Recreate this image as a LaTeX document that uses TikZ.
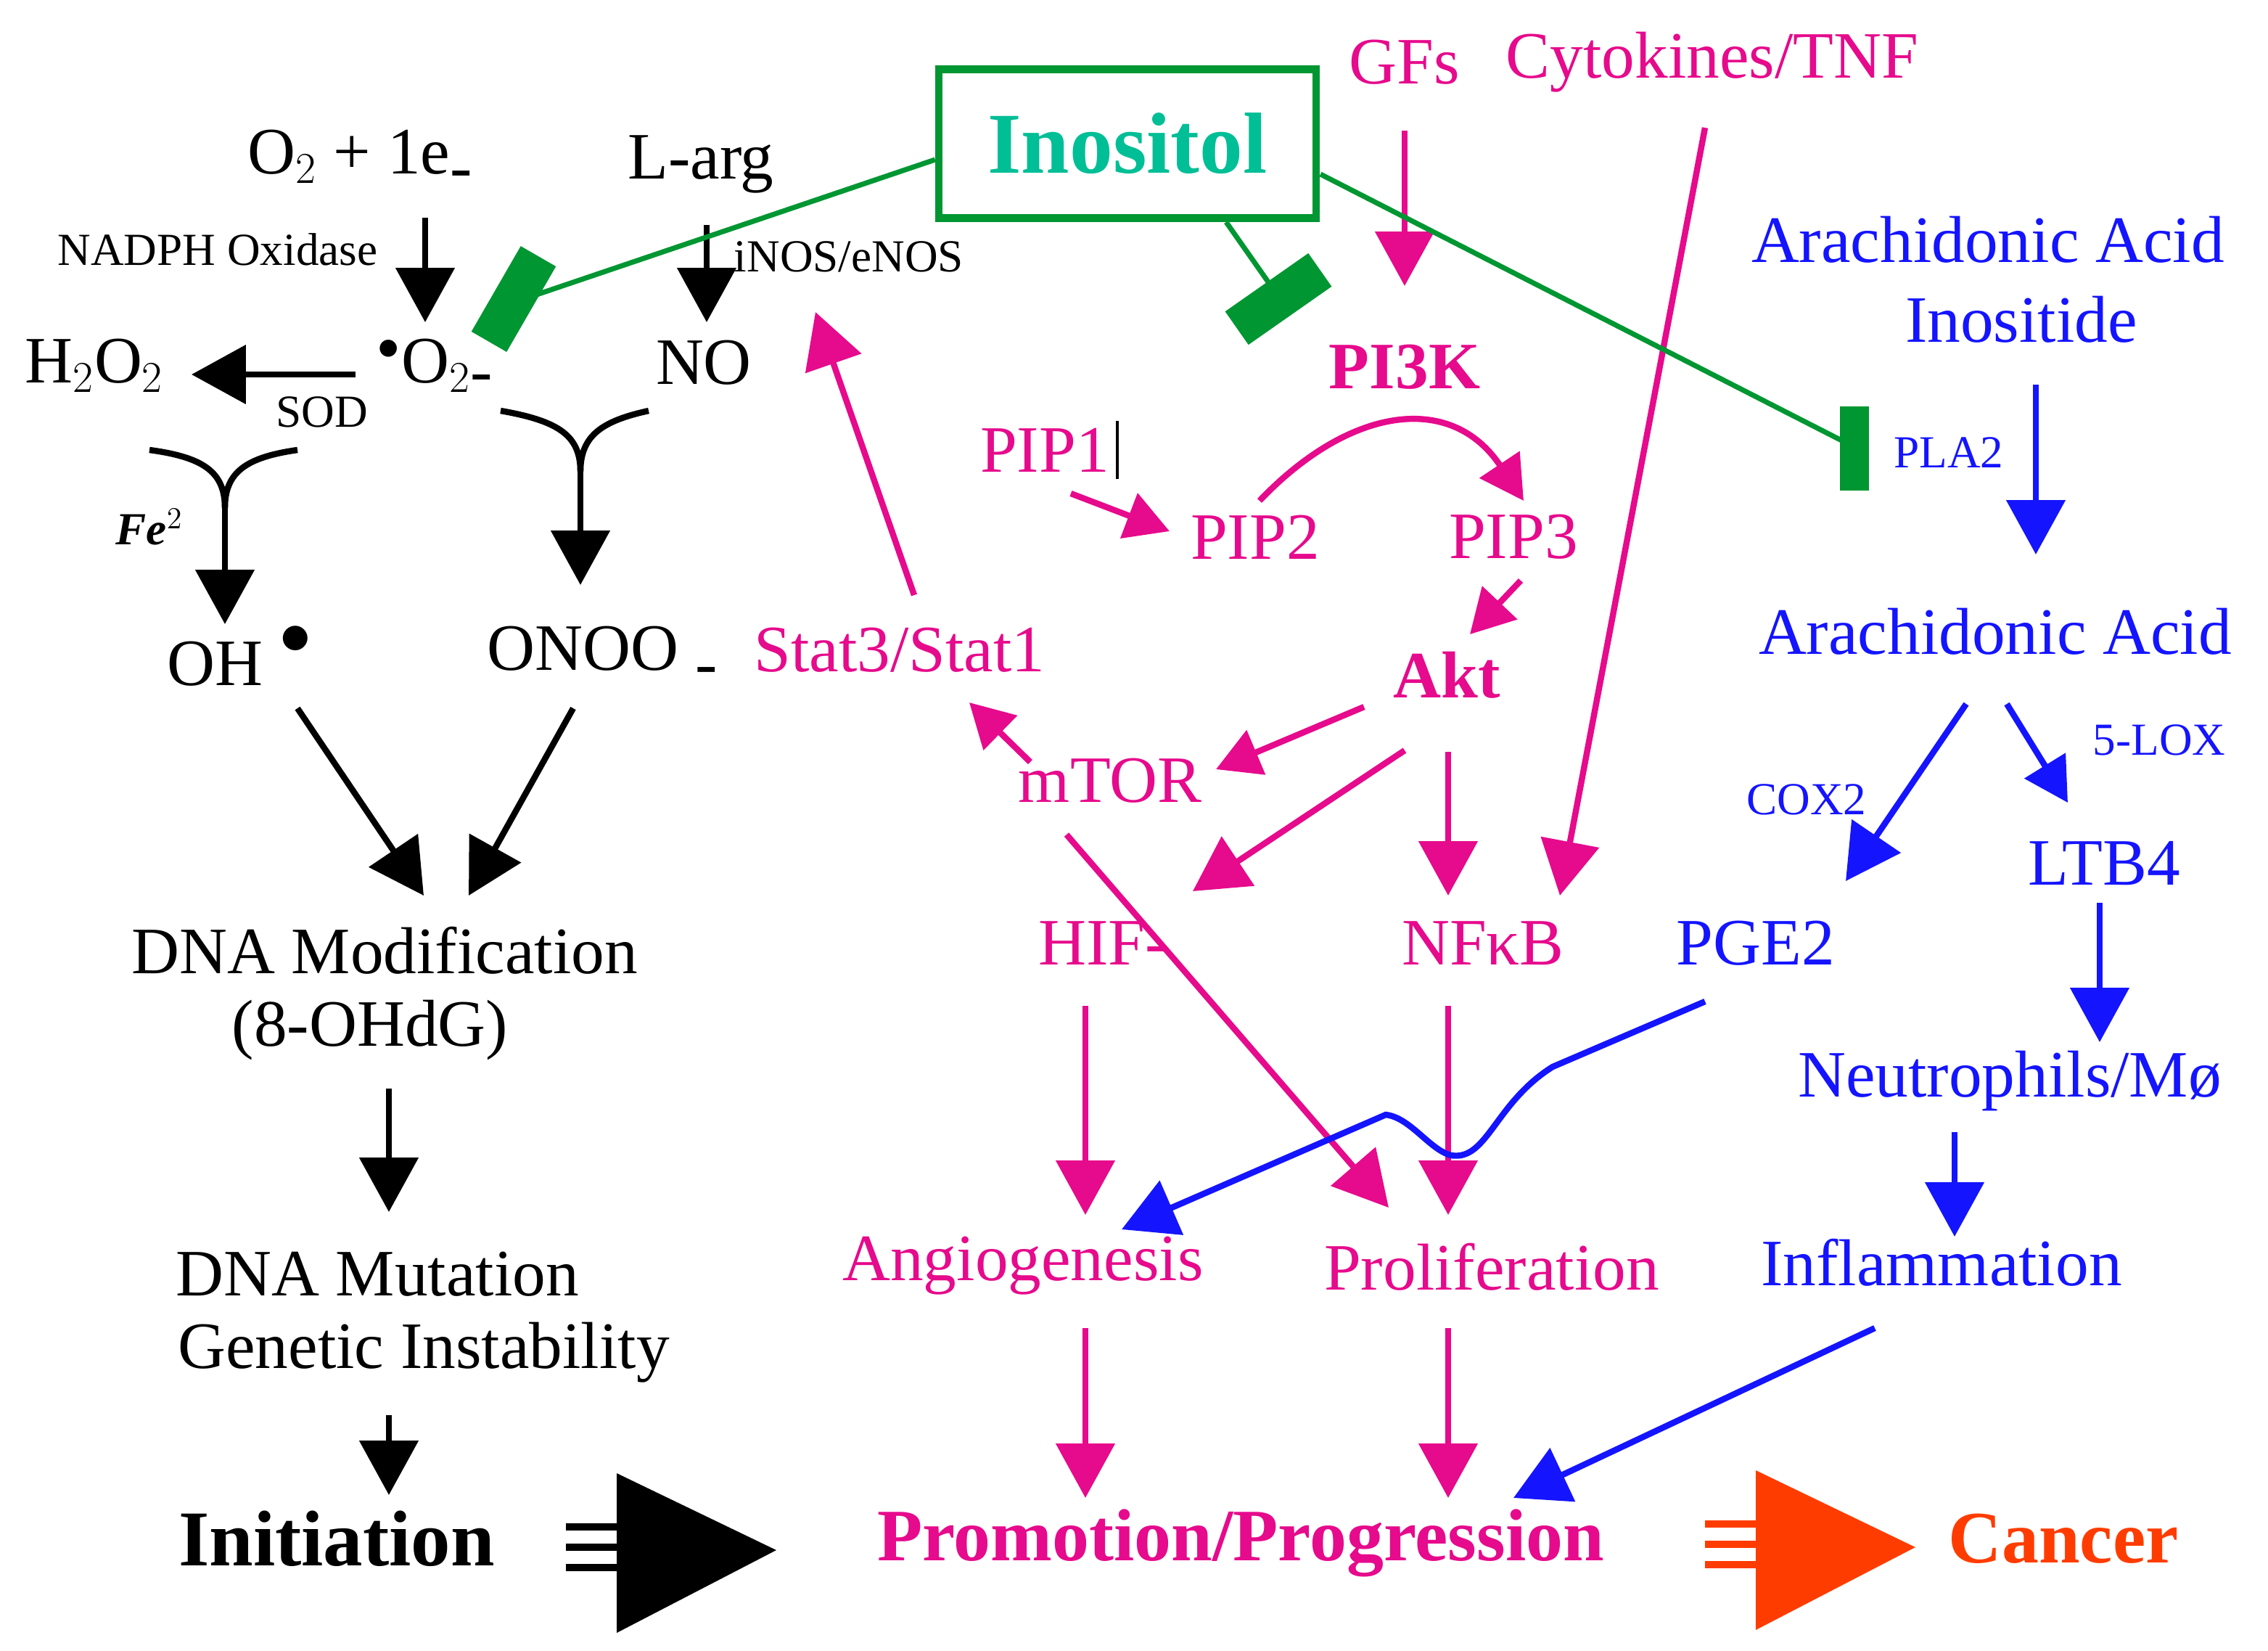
\documentclass[tikz,border=0pt]{standalone}
\usepackage{fontspec}
\setmainfont{Liberation Serif}
\usetikzlibrary{arrows.meta}
\definecolor{pk}{RGB}{230,10,140}
\definecolor{bl}{RGB}{20,20,255}
\definecolor{gr}{RGB}{0,150,50}
\definecolor{teal}{RGB}{0,190,150}
\definecolor{org}{RGB}{255,60,0}
\newcommand{\fs}[1]{\fontsize{#1}{#1}\selectfont}
\begin{document}
\begin{tikzpicture}[x=0.02cm,y=-0.02cm,
 t/.style={inner sep=1pt,font=\fs{26}},
 s/.style={inner sep=1pt,font=\fs{18}},
 ar/.style={line width=2.4pt,-{Triangle[length=0.75cm,width=0.8cm]}},
 sa/.style={line width=2.4pt,-{Triangle[length=0.6cm,width=0.65cm]}},
 inh/.style={line width=2pt,gr}]
\useasboundingbox (0,0) rectangle (1563,1137);
% black side
\node[t] (o2) at (248,110) {O$_2$ + 1e\raisebox{-6pt}{-}};
\node[t] (larg) at (483,113) {L-arg};
\node[s] (nadph) at (150,172) {NADPH Oxidase};
\node[s] (inos) at (585,177) {iNOS/eNOS};
\node[t] (o2m) at (300,252) {$^{\bullet}$O$_{2}$\raisebox{-4pt}{-}};
\node[t] (no) at (485,250) {NO};
\node[t] (h2o2) at (65,252) {H$_2$O$_2$};
\node[s] (sod) at (222,284) {SOD};
\node[s] (fe) at (103,363) {\textbf{\textit{Fe}}$^{2}$};
\node[t] (oh) at (165,452) {OH \raisebox{12pt}{$\bullet$}};
\node[t] (onoo) at (415,452) {ONOO \raisebox{-6pt}{-}};
\node[t] (dna) at (265,655) {DNA Modification};
\node[t] (ohdg) at (255,710) {(8-OHdG)};
\node[t] (mut) at (260,878) {DNA Mutation};
\node[t] (gen) at (292,932) {Genetic Instability};
\node[t,font=\fs{31}\bfseries] (init) at (232,1060) {Initiation};
\fill (425,1015) -- (425,1125) -- (535,1068) -- cycle;
\foreach \y in {1052,1066,1080} \draw[line width=3pt] (390,\y) -- (425,\y);
\node[t,font=\fs{29}\bfseries,text=pk] (prom) at (855,1063) {Promotion/Progression};
\fill[org] (1210,1013) -- (1210,1123) -- (1320,1066) -- cycle;
\foreach \y in {1050,1064,1078} \draw[org,line width=3pt] (1175,\y) -- (1210,\y);
\node[t,font=\fs{29}\bfseries,text=org] (can) at (1422,1060) {Cancer};
% inositol
\node[draw=gr,line width=3pt,minimum width=5.2cm,minimum height=2.05cm,font=\fs{34}\bfseries,text=teal] (ino) at (777,99) {Inositol};
% pink
\begin{scope}[every node/.append style={text=pk}]
\node[t] (gfs) at (968,43) {GFs};
\node[t] (cyt) at (1180,43) {Cytokines/TNF};
\node[t,font=\fs{26}\bfseries] (pi3k) at (968,253) {PI3K};
\node[t] (pip1) at (720,310) {PIP1};
\node[t] (pip2) at (865,370) {PIP2};
\node[t] (pip3) at (1043,370) {PIP3};
\node[t,font=\fs{26}\bfseries] (akt) at (997,465) {Akt};
\node[t] (mtor) at (765,538) {mTOR};
\node[t] (stat) at (620,448) {Stat3/Stat1};
\node[t] (hif) at (760,650) {HIF-};
\node[t] (nfkb) at (1022,650) {NFκB};
\node[t] (ang) at (705,872) {Angiogenesis};
\node[t] (pro) at (1028,873) {Proliferation};
\end{scope}
\draw[line width=1pt] (770,290) -- (770,330);
% blue
\begin{scope}[every node/.append style={text=bl}]
\node[t] (aai) at (1370,165) {Arachidonic Acid};
\node[t] (inos2) at (1393,220) {Inositide};
\node[s] (pla) at (1343,312) {PLA2};
\node[t] (aa) at (1375,435) {Arachidonic Acid};
\node[s] (cox) at (1245,551) {COX2};
\node[s] (lox) at (1488,510) {5-LOX};
\node[t] (ltb) at (1450,595) {LTB4};
\node[t] (pge) at (1210,650) {PGE2};
\node[t] (neu) at (1385,745) {Neutrophils/M\o};
\node[t] (inf) at (1338,870) {Inflammation};
\end{scope}
% black arrows
\coordinate (a1) at (293,150); \coordinate (a2) at (293,222);
\draw[ar] (a1) -- (a2);
\coordinate (b1) at (487,155); \coordinate (b2) at (487,222);
\draw[ar] (b1) -- (b2);
\coordinate (c1) at (245,258); \coordinate (c2) at (132,258);
\draw[ar] (c1) -- (c2);
\coordinate (d1) at (103,310); \coordinate (d2) at (205,310); \coordinate (d3) at (155,430);
\draw[line width=2.4pt] (d1) .. controls (140,315) and (155,325) .. (155,350);
\draw[line width=2.4pt] (d2) .. controls (170,315) and (155,325) .. (155,350);
\draw[ar] (155,349) -- (d3);
\coordinate (e1) at (345,283); \coordinate (e2) at (447,283); \coordinate (e3) at (400,403);
\draw[line width=2.4pt] (e1) .. controls (385,290) and (400,300) .. (400,325);
\draw[line width=2.4pt] (e2) .. controls (415,290) and (400,300) .. (400,325);
\draw[ar] (400,324) -- (e3);
\draw[ar] (205,488) -- (292,617);
\draw[ar] (395,488) -- (323,617);
\draw[ar] (268,750) -- (268,835);
\draw[ar] (268,975) -- (268,1030);
% pink arrows
\begin{scope}[pk]
\draw[ar] (968,90) -- (968,197);
\draw[ar] (1175,88) -- (1075,617);
\draw[ar] (630,410) -- (562,215);
\draw[sa] (738,340) -- (806,366);
\draw[sa] (868,345) .. controls (930,280) and (1000,270) .. (1050,345);
\draw[sa] (1048,400) -- (1013,437);
\draw[sa] (940,487) -- (838,530);
\draw[ar] (968,517) -- (822,614);
\draw[ar] (998,518) -- (998,617);
\draw[sa] (710,525) -- (668,484);
\draw[ar] (735,575) -- (957,832);
\draw[ar] (748,693) -- (748,837);
\draw[ar] (998,693) -- (998,837);
\draw[ar] (748,915) -- (748,1032);
\draw[ar] (998,915) -- (998,1032);
\end{scope}
% blue arrows
\begin{scope}[bl]
\draw[ar] (1403,265) -- (1403,382);
\draw[ar] (1355,485) -- (1272,607);
\draw[sa] (1383,485) -- (1425,553);
\draw[ar] (1447,622) -- (1447,718);
\draw[ar] (1347,780) -- (1347,852);
\draw[ar] (1292,915) -- (1043,1032);
\draw[ar] (1175,690) -- (1070,735) .. controls (1030,760) and (1025,800) .. (1000,796) .. controls (985,792) and (972,770) .. (955,768) -- (773,847);
\end{scope}
% inhibitions
\draw[inh] (ino.west |- 0,110) -- (358,207);
\fill[gr,rotate around={-30:(354,206)}] (340,172) rectangle (368,240);
\draw[inh] (845,153) -- (878,200);
\fill[gr,rotate around={-55:(881,206)}] (867,171) rectangle (895,241);
\draw[inh] (910,120) -- (1278,308);
\fill[gr] (1268,280) rectangle (1288,338);
\end{tikzpicture}
\end{document}
